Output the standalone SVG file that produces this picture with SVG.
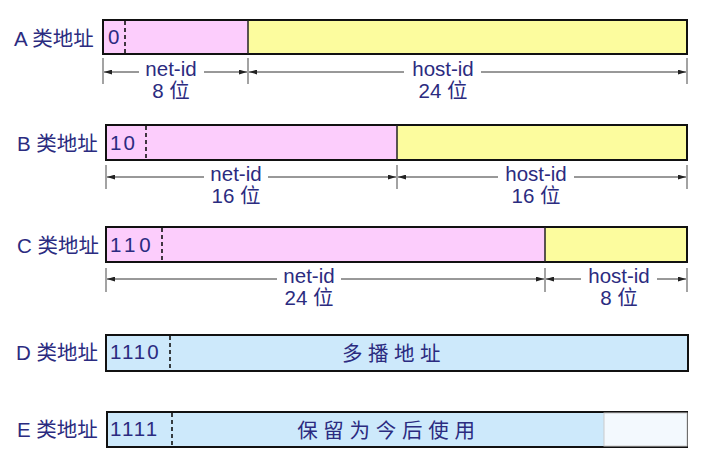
<svg xmlns="http://www.w3.org/2000/svg" width="721" height="473" viewBox="0 0 721 473">
<style>
text{font-family:"Liberation Sans","Noto Sans CJK SC",sans-serif;font-size:20.5px;fill:#2b2b80}
.box{stroke:#111;stroke-width:2}
.pink{fill:#fccdfc}.yel{fill:#fcfc9e}.blue{fill:#cde9fb}
.dash{stroke:#111;stroke-width:1.6;stroke-dasharray:4,3}
.sep{stroke:#222;stroke-width:1.5}
.tick{stroke:#666;stroke-width:1.2}
.dim{stroke:#333;stroke-width:1;marker-end:url(#ah)}
.c{text-anchor:middle}
</style>
<defs>
<marker id="ah" viewBox="0 0 10 6" refX="10" refY="3" markerWidth="8" markerHeight="5" markerUnits="userSpaceOnUse" orient="auto">
<path d="M0,0 L10,3 L0,6 z" fill="#222"/>
</marker>
</defs>
<rect width="721" height="473" fill="#fff"/>

<g id="classA">
<text x="14" y="46">A 类地址</text>
<rect class="pink" x="103" y="20" width="145" height="34"/>
<rect class="yel" x="248" y="20" width="439" height="34"/>
<rect class="box" x="103" y="20" width="584" height="34" fill="none"/>
<line class="sep" x1="248" y1="20" x2="248" y2="54"/>
<line class="dash" x1="125" y1="21" x2="125" y2="53"/>
<text x="108" y="44">0</text>
<text class="c" x="171" y="76">net-id</text>
<text class="c" x="171" y="98">8 位</text>
<text class="c" x="443" y="76">host-id</text>
<text class="c" x="443" y="98">24 位</text>
</g>

<g id="classB">
<text x="17" y="151">B 类地址</text>
<rect class="pink" x="106" y="125" width="291" height="35"/>
<rect class="yel" x="397" y="125" width="290" height="35"/>
<rect class="box" x="106" y="125" width="581" height="35" fill="none"/>
<line class="sep" x1="397" y1="125" x2="397" y2="160"/>
<line class="dash" x1="146" y1="126" x2="146" y2="159"/>
<text x="110" y="150" letter-spacing="2">10</text>
<text class="c" x="236" y="181">net-id</text>
<text class="c" x="236" y="203">16 位</text>
<text class="c" x="536" y="181">host-id</text>
<text class="c" x="536" y="203">16 位</text>
</g>

<g id="classC">
<text x="17" y="253">C 类地址</text>
<rect class="pink" x="106" y="227" width="439" height="35"/>
<rect class="yel" x="545" y="227" width="142" height="35"/>
<rect class="box" x="106" y="227" width="581" height="35" fill="none"/>
<line class="sep" x1="545" y1="227" x2="545" y2="262"/>
<line class="dash" x1="162" y1="228" x2="162" y2="261"/>
<text x="110" y="252" letter-spacing="4">110</text>
<text class="c" x="309" y="283">net-id</text>
<text class="c" x="309" y="305">24 位</text>
<text class="c" x="619" y="283">host-id</text>
<text class="c" x="619" y="305">8 位</text>
</g>

<g id="classD">
<text x="16" y="360">D 类地址</text>
<rect class="blue box" x="106" y="335" width="582" height="36"/>
<line class="dash" x1="170" y1="336" x2="170" y2="370"/>
<text x="110" y="359" letter-spacing="2">1110</text>
<text class="c" x="394" y="361" letter-spacing="5.5">多播地址</text>
</g>

<g id="classE">
<text x="17" y="437">E 类地址</text>
<rect class="blue box" x="107" y="412" width="580" height="35"/>
<line class="dash" x1="172" y1="413" x2="172" y2="446"/>
<text x="110" y="436" letter-spacing="2">1111</text>
<text class="c" x="389" y="438" letter-spacing="5.75">保留为今后使用</text>
<rect x="604" y="413" width="83" height="33" fill="#f3f9fe" stroke="#ccc" stroke-width="1"/>
</g>

<g id="connectors">
<line class="tick" x1="103" y1="58" x2="103" y2="84"/>
<line class="tick" x1="248" y1="58" x2="248" y2="84"/>
<line class="tick" x1="687" y1="58" x2="687" y2="84"/>
<line class="dim" x1="139" y1="72" x2="104" y2="72"/>
<line class="dim" x1="204" y1="72" x2="247" y2="72"/>
<line class="dim" x1="404" y1="72" x2="249" y2="72"/>
<line class="dim" x1="481" y1="72" x2="686" y2="72"/>

<line class="tick" x1="106" y1="165" x2="106" y2="189"/>
<line class="tick" x1="397" y1="165" x2="397" y2="189"/>
<line class="tick" x1="687" y1="165" x2="687" y2="189"/>
<line class="dim" x1="204" y1="177" x2="107" y2="177"/>
<line class="dim" x1="268" y1="177" x2="396" y2="177"/>
<line class="dim" x1="498" y1="177" x2="398" y2="177"/>
<line class="dim" x1="574" y1="177" x2="686" y2="177"/>

<line class="tick" x1="106" y1="268" x2="106" y2="292"/>
<line class="tick" x1="545" y1="268" x2="545" y2="292"/>
<line class="tick" x1="687" y1="268" x2="687" y2="292"/>
<line class="dim" x1="277" y1="279" x2="107" y2="279"/>
<line class="dim" x1="341" y1="279" x2="544" y2="279"/>
<line class="dim" x1="581" y1="279" x2="546" y2="279"/>
<line class="dim" x1="657" y1="279" x2="686" y2="279"/>
</g>
</svg>
